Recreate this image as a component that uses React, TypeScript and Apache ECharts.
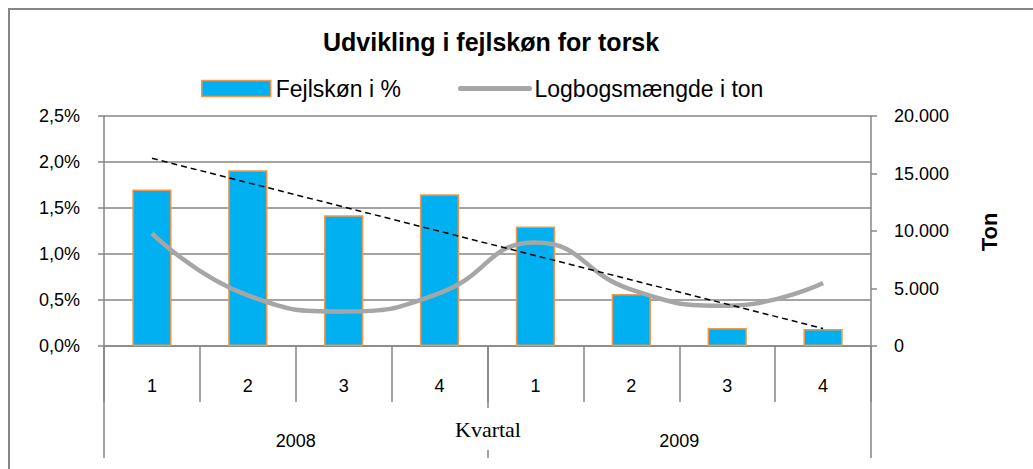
import React, { useEffect, useRef } from "react";
import * as echarts from "echarts";

const quarters = ["1", "2", "3", "4", "1", "2", "3", "4"];
const years = ["2008", "2009"];
const fejlskon = [1.7, 1.91, 1.42, 1.65, 1.3, 0.565, 0.196, 0.185];
const logbog = [9800, 4400, 3000, 4600, 9000, 4900, 3500, 5480];
const trend = [2.04, null, null, null, null, null, null, 0.19];
const leftTicks = { min: 0, max: 2.5, interval: 0.5 };
const rightTicks = { min: 0, max: 20000, interval: 5000 };

const GRID = "#868686";
const FONT = "Liberation Sans";

export default function App() {
  const ref = useRef<HTMLDivElement>(null);
  useEffect(() => {
    if (!ref.current) return;
    const chart = echarts.init(ref.current, null, { renderer: "svg" });
    chart.setOption({
      animation: false,
      backgroundColor: "#fff",
      title: {
        text: "Udvikling i fejlskøn for torsk",
        left: 323,
        top: 29,
        padding: 0,
        textStyle: { fontFamily: FONT, fontSize: 25, fontWeight: "bold", color: "#000" },
      },
      legend: {
        left: 201,
        top: 77,
        padding: 0,
        itemWidth: 69,
        itemHeight: 16,
        itemGap: 57,
        textStyle: { fontFamily: FONT, fontSize: 23, color: "#000" },
        data: [
          {
            name: "Fejlskøn i %",
            icon: "rect",
            itemStyle: { color: "#00B0F0", borderColor: "#F79646", borderWidth: 1.5 },
          },
          {
            name: "Logbogsmængde i ton",
            itemStyle: { opacity: 0 },
            lineStyle: { color: "#A6A6A6", width: 5, cap: "round" },
          },
        ],
      },
      grid: { left: 104, right: 162, top: 116, bottom: 123, containLabel: false },
      xAxis: [
        {
          type: "category",
          data: quarters,
          position: "bottom",
          axisLine: { show: true, lineStyle: { color: GRID, width: 1.5 } },
          axisTick: { show: true, interval: 0, length: 56, lineStyle: { color: GRID, width: 1.5 } },
          axisLabel: { interval: 0, margin: 31, fontFamily: FONT, fontSize: 18, color: "#000" },
        },
        {
          type: "category",
          data: years,
          position: "bottom",
          axisLine: { show: false },
          axisTick: { show: true, interval: 0, length: 112, lineStyle: { color: GRID, width: 1.5 } },
          axisLabel: { interval: 0, margin: 86, fontFamily: FONT, fontSize: 18, color: "#000" },
        },
      ],
      yAxis: [
        {
          type: "value",
          ...leftTicks,
          position: "left",
          axisLine: { show: true, lineStyle: { color: GRID, width: 1.5 } },
          axisTick: { show: true, length: 6, lineStyle: { color: GRID, width: 1.5 } },
          splitLine: { show: true, lineStyle: { color: GRID, width: 1.5 } },
          axisLabel: {
            margin: 24,
            fontFamily: FONT,
            fontSize: 18,
            color: "#000",
            formatter: (v: number) => v.toFixed(1).replace(".", ",") + "%",
          },
        },
        {
          type: "value",
          ...rightTicks,
          position: "right",
          axisLine: { show: true, lineStyle: { color: GRID, width: 1.5 } },
          axisTick: { show: true, length: 6, lineStyle: { color: GRID, width: 1.5 } },
          splitLine: { show: false },
          axisLabel: {
            margin: 23,
            fontFamily: FONT,
            fontSize: 18,
            color: "#000",
            formatter: (v: number) => (v === 0 ? "0" : String(v).replace(/\B(?=(\d{3})+(?!\d))/g, ".")),
          },
        },
      ],
      series: [
        {
          name: "Fejlskøn i %",
          type: "bar",
          xAxisIndex: 0,
          yAxisIndex: 0,
          data: fejlskon,
          barWidth: "41%",
          itemStyle: { color: "#00B0F0", borderColor: "#F79646", borderWidth: 1.5 },
        },
        {
          name: "Logbogsmængde i ton",
          type: "line",
          xAxisIndex: 0,
          yAxisIndex: 1,
          data: logbog,
          smooth: 0.5,
          symbol: "none",
          itemStyle: { color: "#A6A6A6" },
          lineStyle: { color: "#A6A6A6", width: 4.5 },
        },
        {
          name: "trend",
          type: "line",
          xAxisIndex: 0,
          yAxisIndex: 0,
          data: trend,
          connectNulls: true,
          symbol: "none",
          lineStyle: { color: "#000", width: 1.5, type: [6, 4] },
          z: 5,
        },
      ],
      graphic: [
        {
          type: "rect",
          shape: { x: 9, y: 9, width: 1200, height: 700 },
          style: { fill: "none", stroke: GRID, lineWidth: 2 },
          silent: true,
        },
        {
          type: "text",
          x: 488,
          y: 408,
          z: 100,
          style: {
            text: "Kvartal",
            fontFamily: "Liberation Serif",
            fontSize: 22,
            fill: "#000",
            align: "center",
            verticalAlign: "top",
            backgroundColor: "#fff",
            padding: [10, 3, 10, 3],
          },
        },
        {
          type: "text",
          x: 989,
          y: 232,
          rotation: Math.PI / 2,
          style: {
            text: "Ton",
            fontFamily: FONT,
            fontSize: 22,
            fontWeight: "bold",
            fill: "#000",
            align: "center",
            verticalAlign: "middle",
          },
        },
      ],
    });
    return () => chart.dispose();
  }, []);
  return (
    <div
      ref={ref}
      style={{ position: "absolute", left: 0, top: 0, width: 1033, height: 469 }}
    />
  );
}
